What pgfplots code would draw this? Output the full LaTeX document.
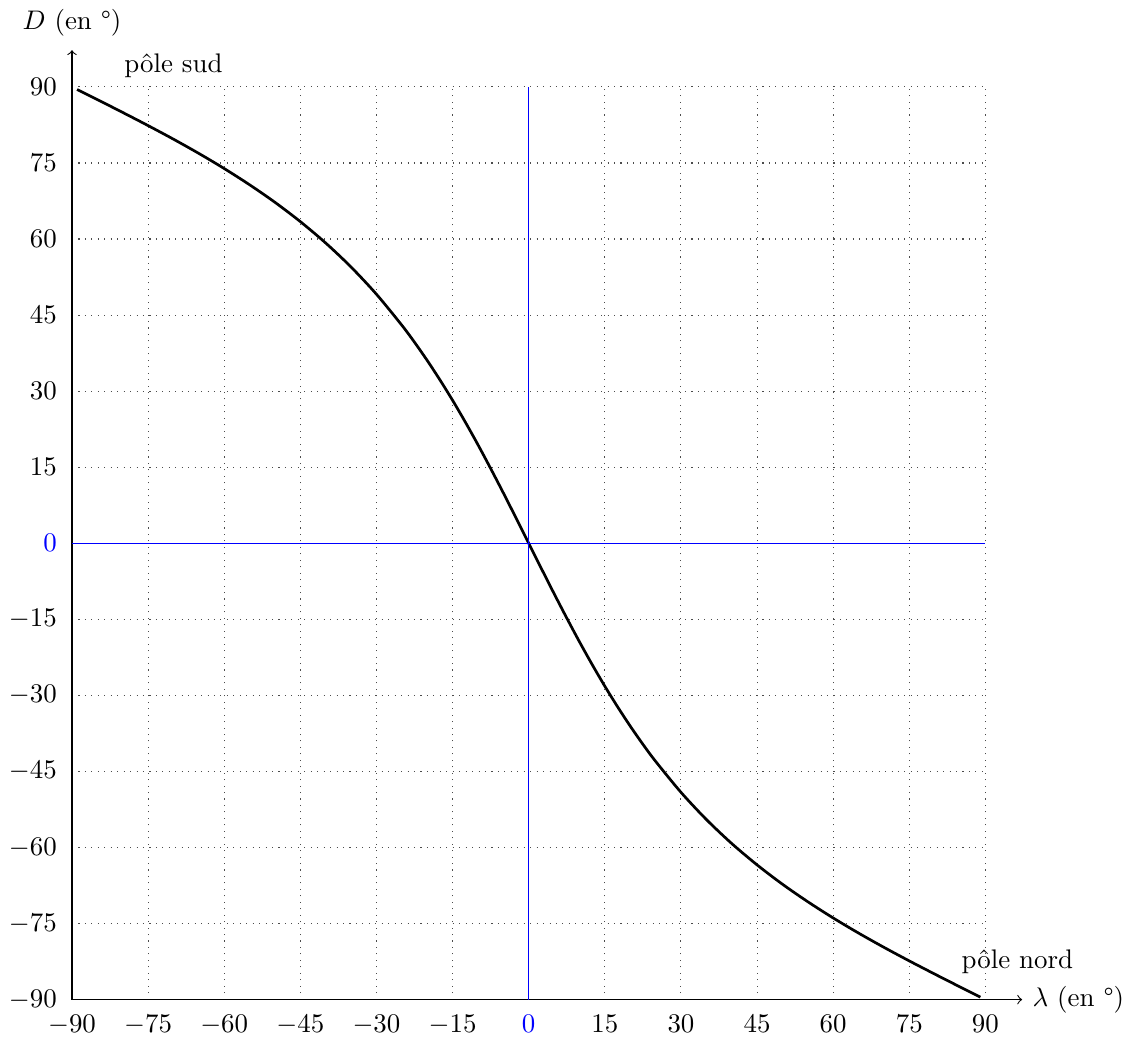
\documentclass[border=0pt]{standalone}
\usepackage{pgfplots}
\pgfplotsset{compat=1.18}
\definecolor{myblue}{rgb}{0,0,1}
\begin{document}
\begin{tikzpicture}
\begin{axis}[
  width=11.94cm, height=11.93cm, scale only axis,
  xmin=-90, xmax=90, ymin=-90, ymax=90,
  axis lines=left,
  axis line style={-to, shorten >=-4.8mm},
  xtick={-90,-75,-60,-45,-30,-15,15,30,45,60,75,90},
  ytick={-90,-75,-60,-45,-30,-15,15,30,45,60,75,90},
  extra x ticks={0}, extra y ticks={0},
  extra x tick style={xticklabel style={text=myblue}, grid=none},
  extra y tick style={yticklabel style={text=myblue}, grid=none},
  grid=major, grid style={dotted, black!70},
  tick style={draw=none},
  clip=false,
]
\addplot[black, line width=1pt, smooth] coordinates {
(-89,89.50) (-85,87.50) (-80,84.96) (-75,82.37) (-70,79.69) (-65,76.88)
(-60,73.90) (-55,70.70) (-50,67.24) (-45,63.43) (-40,59.21) (-35,54.47)
(-30,49.11) (-25,43.00) (-22.5,39.64) (-20,36.05) (-17.5,32.23) (-15,28.19)
(-12.5,23.91) (-10,19.43) (-7.5,14.75) (-5,9.93) (-2.5,4.99) (0,0)
(2.5,-4.99) (5,-9.93) (7.5,-14.75) (10,-19.43) (12.5,-23.91) (15,-28.19)
(17.5,-32.23) (20,-36.05) (22.5,-39.64) (25,-43.00) (30,-49.11) (35,-54.47)
(40,-59.21) (45,-63.43) (50,-67.24) (55,-70.70) (60,-73.90) (65,-76.88)
(70,-79.69) (75,-82.37) (80,-84.96) (85,-87.50) (89,-89.50)
};
\draw[color=myblue, line width=0.4pt] (axis cs:-90,0) -- (axis cs:90,0);
\draw[color=myblue, line width=0.4pt] (axis cs:0,-90) -- (axis cs:0,90);
\node[above] at (axis cs:-70,90) {pôle sud};
\node[anchor=base] at (axis cs:96.3,-83.9) {pôle nord};
\node[anchor=west] at ([xshift=14pt]rel axis cs:1,0) {$\lambda$ (en °)};
\node[anchor=base] at ([yshift=21.5pt]rel axis cs:0,1) {$D$ (en °)};
\end{axis}
\end{tikzpicture}
\end{document}
